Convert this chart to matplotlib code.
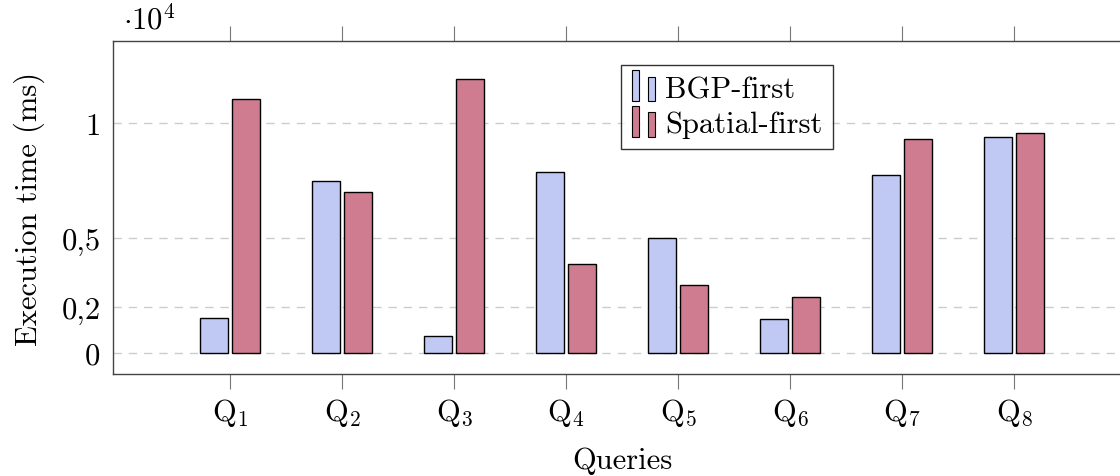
import matplotlib
matplotlib.use("Agg")
import matplotlib.pyplot as plt
import numpy as np
from matplotlib.patches import Rectangle
from matplotlib.legend_handler import HandlerBase

plt.rcParams['font.family'] = ['cmr10', 'DejaVu Serif']
plt.rcParams['mathtext.fontset'] = 'cm'
plt.rcParams['axes.unicode_minus'] = False

queries = ['Q$_1$', 'Q$_2$', 'Q$_3$', 'Q$_4$', 'Q$_5$', 'Q$_6$', 'Q$_7$', 'Q$_8$']
bgp_first = [1520, 7480, 740, 7870, 5000, 1480, 7740, 9390]
spatial_first = [11040, 7000, 11910, 3870, 2960, 2430, 9300, 9570]
yticks = [0, 2000, 5000, 10000]
ytick_labels = ['0', '0,2', '0,5', '1']

c_bgp = '#c0c9f3'
c_sp = '#cf7c91'
FS = 22

fig = plt.figure(figsize=(11.2, 4.77), dpi=100)
ax = fig.add_axes([113/1120, (477-375)/477, (1131-113)/1120, (375-42)/477])

x = np.arange(1, len(queries) + 1)
w = 0.25
off = 0.143
ax.bar(x - off, bgp_first, width=w, color=c_bgp, edgecolor='black', linewidth=1.0, label='BGP-first', zorder=3)
ax.bar(x + off, spatial_first, width=w, color=c_sp, edgecolor='black', linewidth=1.0, label='Spatial-first', zorder=3)

ax.set_xlim(1 - 117/112, 8 + 117/112)
ax.set_ylim(-913, 13570)
ax.set_xticks(x)
ax.set_xticklabels(queries, fontsize=FS)
ax.set_yticks(yticks)
ax.set_yticklabels(ytick_labels, fontsize=FS)
ax.tick_params(axis='x', direction='out', length=11, width=0.8, color='#777777', top=True, bottom=True, pad=5)
ax.tick_params(axis='y', length=0, pad=9)
ax.yaxis.grid(True, linestyle=(0, (6, 5)), color='#cccccc', linewidth=1.0, zorder=0)
for s in ax.spines.values():
    s.set_color('#444444')
    s.set_linewidth(1.0)

ax.set_xlabel('Queries', fontsize=FS, labelpad=13)
ax.set_ylabel('Execution time (ms)', fontsize=FS, labelpad=12)
fig.text(123/1120, 1 - 20/477, r'$\cdot 10^4$', fontsize=FS, va='center', ha='left')


class TwoBarHandler(HandlerBase):
    def create_artists(self, legend, orig_handle, xdescent, ydescent, width, height, fontsize, trans):
        fc = orig_handle.get_facecolor()
        bw = width * 0.28
        y0 = -ydescent - height * 0.2
        r1 = Rectangle((-xdescent + width * 0.02, y0), bw, height * 1.45,
                       facecolor=fc, edgecolor='black', linewidth=0.8, transform=trans)
        r2 = Rectangle((-xdescent + width * 0.62, y0), bw, height * 1.15,
                       facecolor=fc, edgecolor='black', linewidth=0.8, transform=trans)
        return [r1, r2]

handles, labels = ax.get_legend_handles_labels()
hs = [h.patches[0] for h in handles]
leg = ax.legend(hs, labels, handler_map={type(hs[0]): TwoBarHandler()},
                loc='upper left', bbox_to_anchor=((621-113)/(1131-113), (375-66)/(375-42)),
                fontsize=FS, frameon=True, fancybox=False, edgecolor='black',
                handlelength=0.85, handletextpad=0.25, borderpad=0.35, labelspacing=0.25,
                borderaxespad=0)
leg.get_frame().set_linewidth(1.0)

fig.savefig('out.png', dpi=100)
